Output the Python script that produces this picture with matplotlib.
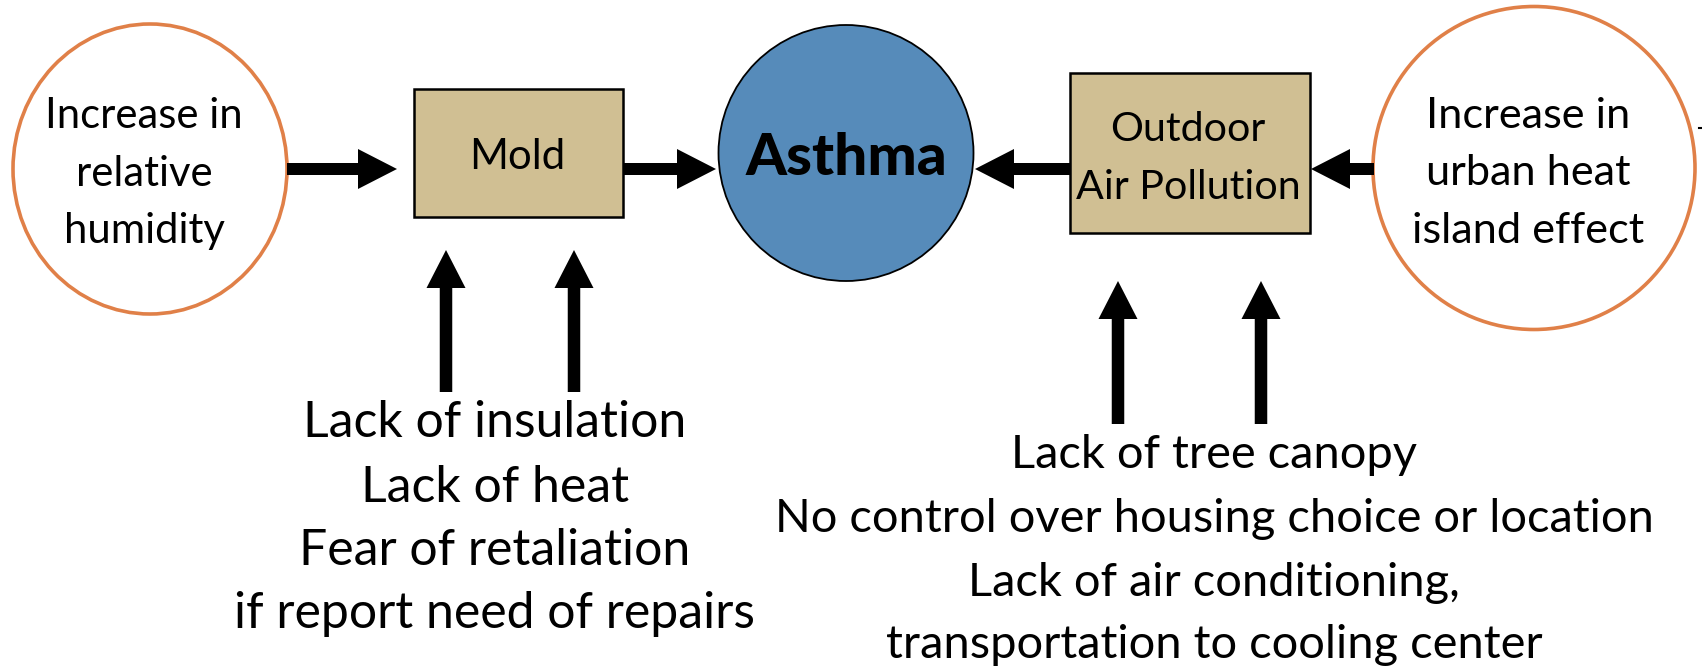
import matplotlib
matplotlib.use("Agg")
import matplotlib.pyplot as plt
from matplotlib.patches import Ellipse, Rectangle, FancyArrow

# ---- text content ----
left_cause = ["Increase in", "relative", "humidity"]
right_cause = ["Increase in", "urban heat", "island effect"]
mold_label = ["Mold"]
pollution_label = ["Outdoor", "Air Pollution"]
outcome_label = "Asthma"
mold_factors = ["Lack of insulation", "Lack of heat", "Fear of retaliation",
                "if report need of repairs"]
pollution_factors = ["Lack of tree canopy",
                     "No control over housing choice or location",
                     "Lack of air conditioning,",
                     "transportation to cooling center"]

# ---- colours ----
ORANGE = "#E08048"
TAN = "#D0BF93"
BLUE = "#568BBA"
FONT = ["Lato", "DejaVu Sans"]

W, H = 1702, 670
fig = plt.figure(figsize=(W / 100, H / 100), dpi=100)
ax = fig.add_axes([0, 0, 1, 1])
ax.set_xlim(0, W)
ax.set_ylim(H, 0)
ax.axis("off")
renderer = fig.canvas.get_renderer()


def block(lines, cx, baselines, target_w, weight="normal", ref_idx=None):
    """Draw centred lines; font size fitted so the widest line spans target_w px."""
    texts = [ax.text(cx, y, s, ha="center", va="baseline", fontsize=20,
                     family=FONT, weight=weight, color="black")
             for s, y in zip(lines, baselines)]
    widths = [t.get_window_extent(renderer).width for t in texts]
    i = ref_idx if ref_idx is not None else widths.index(max(widths))
    fs = 20 * target_w / widths[i]
    for t in texts:
        t.set_fontsize(fs)
    return texts


# ---- shapes ----
ax.add_patch(Ellipse((150, 169), 274, 290, fc="white", ec=ORANGE, lw=2.6))
ax.add_patch(Ellipse((1534, 168), 322, 323, fc="white", ec=ORANGE, lw=2.6))
ax.add_patch(Ellipse((846, 153), 255, 256, fc=BLUE, ec="black", lw=1.3))
ax.add_patch(Rectangle((414, 89), 209, 128, fc=TAN, ec="black", lw=1.8))
ax.add_patch(Rectangle((1070, 73), 240, 160, fc=TAN, ec="black", lw=1.8))

# ---- arrows ----
harrows = [(287, 397), (623, 716), (1070, 975), (1374, 1311)]
for x0, x1 in harrows:
    ax.add_patch(FancyArrow(x0, 169, x1 - x0, 0, width=12, head_width=40,
                            head_length=39, length_includes_head=True,
                            fc="black", ec="none"))
varrows = [(446, 392, 250), (574, 392, 250), (1118, 424, 281), (1261, 424, 281)]
for x, y0, y1 in varrows:
    ax.add_patch(FancyArrow(x, y0, 0, y1 - y0, width=12.5, head_width=39,
                            head_length=38, length_includes_head=True,
                            fc="black", ec="none"))

# tiny clipped mark at the right edge
ax.plot([1699, 1702], [128, 128], color="black", lw=1.5)

# ---- text ----
block(left_cause, 144, [128, 186, 243], 198, ref_idx=0)
block(right_cause, 1528, [128, 185, 243], 233, ref_idx=2)
block(mold_label, 517, [169], 96)
block(pollution_label, 1188, [141, 199], 225, ref_idx=1)
block([outcome_label], 846, [175], 202, weight="black")
block(mold_factors, 495, [437, 502, 565, 628], 522, ref_idx=3)
block(pollution_factors, 1214, [468, 532, 596, 658], 878, ref_idx=1)

fig.savefig("out.png", dpi=100, facecolor="white")
